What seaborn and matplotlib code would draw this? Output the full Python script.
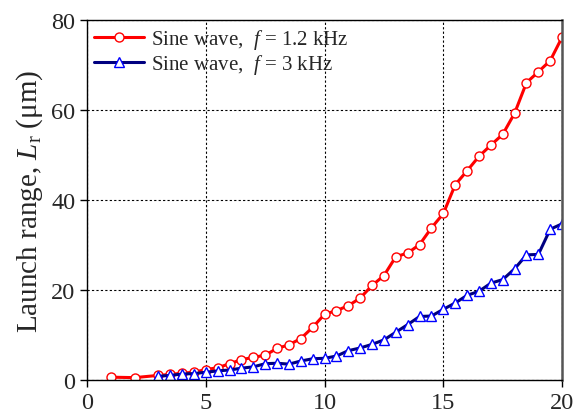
import numpy as np
import pandas as pd

import seaborn as sns
from matplotlib import pyplot as plt

# launch range vs. x
X_RED = [1, 2, 3, 3.5, 4, 4.5, 5, 5.5, 6, 6.5, 7, 7.5, 8, 8.5, 9, 9.5, 10,
         10.5, 11, 11.5, 12, 12.5, 13, 13.5, 14, 14.5, 15, 15.5, 16, 16.5,
         17, 17.5, 18, 18.5, 19, 19.5, 20]
Y_RED = [0.6, 0.5, 1.0, 1.2, 1.5, 1.7, 2.3, 2.7, 3.6, 4.5, 5.0, 5.5, 7.0, 7.8,
         9.2, 11.7, 14.6, 15.4, 16.5, 18.2, 21.0, 23.2, 27.4, 28.2, 30.1, 33.8,
         37.0, 43.4, 46.5, 49.7, 52.2, 54.6, 59.3, 66.1, 68.5, 71.0, 76.2]

X_BLUE = [3, 3.5, 4, 4.5, 5, 5.5, 6, 6.5, 7, 7.5, 8, 8.5, 9, 9.5, 10, 10.5,
          11, 11.5, 12, 12.5, 13, 13.5, 14, 14.5, 15, 15.5, 16, 16.5, 17,
          17.5, 18, 18.5, 19, 19.5, 20]
Y_BLUE = [0.8, 1.0, 1.3, 1.4, 1.7, 2.0, 2.2, 2.6, 2.9, 3.6, 3.7, 3.5, 4.2, 4.7,
          4.8, 5.3, 6.5, 7.1, 7.9, 8.9, 10.6, 12.3, 14.1, 14.2, 15.7, 17.1,
          18.8, 19.7, 21.5, 22.3, 24.7, 27.8, 27.9, 33.5, 34.7]

LABEL_RED = "Sine wave,  $f$ = 1.2 kHz"
LABEL_BLUE = "Sine wave,  $f$ = 3 kHz"

sns.set_style("white")
plt.rcParams["font.family"] = ["Liberation Serif", "DejaVu Serif"]
plt.rcParams["mathtext.fontset"] = "custom"
plt.rcParams["mathtext.rm"] = "Liberation Serif"
plt.rcParams["mathtext.it"] = "Liberation Serif:italic"

red = pd.DataFrame({"x": X_RED, "y": Y_RED})
blue = pd.DataFrame({"x": X_BLUE, "y": Y_BLUE})

fig = plt.figure(figsize=(5.73, 4.14), dpi=100)
ax = fig.add_axes([0.152, 0.08, 0.829, 0.869])

sns.lineplot(data=red, x="x", y="y", ax=ax, color="#ff0000", lw=2.2,
             marker="o", ms=6.5, mfc="white", mec="#ff0000", mew=1.0,
             label=LABEL_RED)
sns.lineplot(data=blue, x="x", y="y", ax=ax, color="#000080", lw=2.2,
             marker="^", ms=7, mfc="white", mec="#0000ff", mew=1.0,
             label=LABEL_BLUE)

ax.set_xlim(0, 20)
ax.set_ylim(0, 80)
ax.set_xticks([0, 5, 10, 15, 20])
ax.set_yticks([0, 20, 40, 60, 80])
ax.grid(True, color="black", ls=(0, (2, 2)), lw=0.8)
ax.tick_params(axis="both", labelsize=17.5, direction="out", length=5,
               width=1, color="black", left=True, bottom=True)
ax.set_xlabel("")
ax.set_ylabel(r"Launch range, $L_\mathrm{r}$ (μm)", fontsize=21, labelpad=4)

for side in ["left", "bottom", "top"]:
    ax.spines[side].set_color("black")
    ax.spines[side].set_linewidth(1.0)
ax.spines["right"].set_color("#555555")
ax.spines["right"].set_linewidth(1.8)

ax.legend(loc="upper left", fontsize=15, frameon=False, handlelength=2.4,
          handletextpad=0.3, labelspacing=0.05, borderaxespad=0.1,
          borderpad=0.25)

plt.savefig("out.png", dpi=100)
